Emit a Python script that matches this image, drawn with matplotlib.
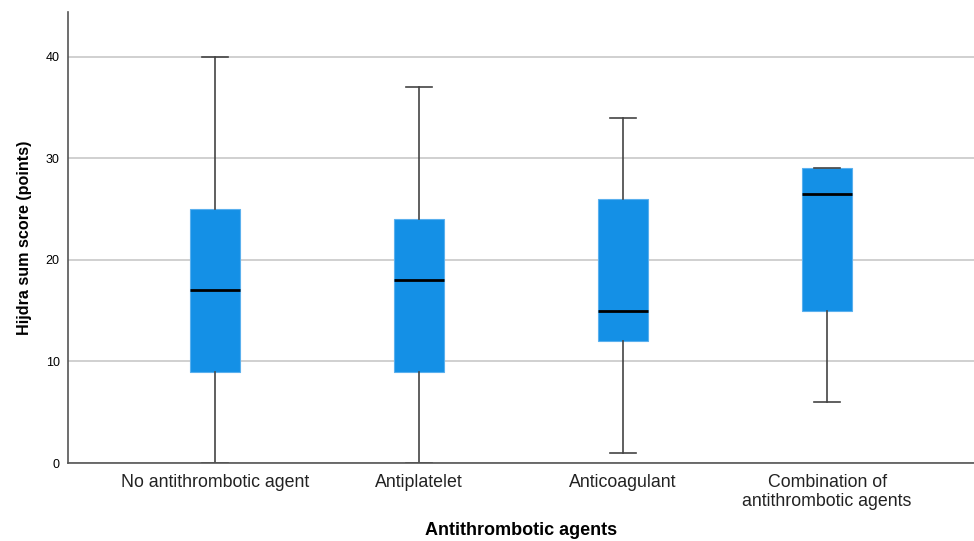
import matplotlib
matplotlib.use("Agg")
import matplotlib.pyplot as plt

categories = ["No antithrombotic agent", "Antiplatelet", "Anticoagulant",
              "Combination of\nantithrombotic agents"]
whisker_low = [0, 0, 1, 6]
q1 = [9, 9, 12, 15]
median = [17, 18, 15, 26.5]
q3 = [25, 24, 26, 29]
whisker_high = [40, 37, 34, 29]
yticks = [0, 10, 20, 30, 40]

plt.rcParams['font.family'] = ['Liberation Sans', 'DejaVu Sans']

fig = plt.figure(figsize=(9.74, 5.41), dpi=100)
ax = fig.add_axes([68/974, 1-463/541, 907/974, 451/541])

stats = []
for i, c in enumerate(categories):
    stats.append(dict(label=c, whislo=whisker_low[i], q1=q1[i], med=median[i],
                      q3=q3[i], whishi=whisker_high[i], fliers=[]))

ax.set_axisbelow(True)
ax.yaxis.grid(True, color="#c8c8c8", linewidth=1.2)
ax.bxp(stats, positions=range(len(categories)), widths=0.245, patch_artist=True,
       showfliers=False,
       boxprops=dict(facecolor="#1490E6", edgecolor="#5ab0ee", linewidth=0.8),
       medianprops=dict(color="black", linewidth=2),
       whiskerprops=dict(color="#444444", linewidth=1.2),
       capprops=dict(color="#444444", linewidth=1.2),
       capwidths=0.125)

ax.set_xlim(-0.72, 3.725)
ax.set_ylim(0, 44.4)
ax.set_yticks(yticks)
ax.set_xticks(range(len(categories)))
ax.set_xticklabels(categories, fontsize=12.8, color="#222222", linespacing=1.12)
ax.tick_params(axis='y', length=0, labelsize=9, pad=6)
ax.tick_params(axis='x', length=0, pad=8)
for s in ["top", "right"]:
    ax.spines[s].set_visible(False)
for s in ["left", "bottom"]:
    ax.spines[s].set_color("#555555")
    ax.spines[s].set_linewidth(1.2)
ax.set_ylabel("Hijdra sum score (points)", fontsize=11.6, fontweight="bold", labelpad=10)
ax.set_xlabel("Antithrombotic agents", fontsize=13, fontweight="bold", labelpad=9)

fig.savefig("out.png", dpi=100)
